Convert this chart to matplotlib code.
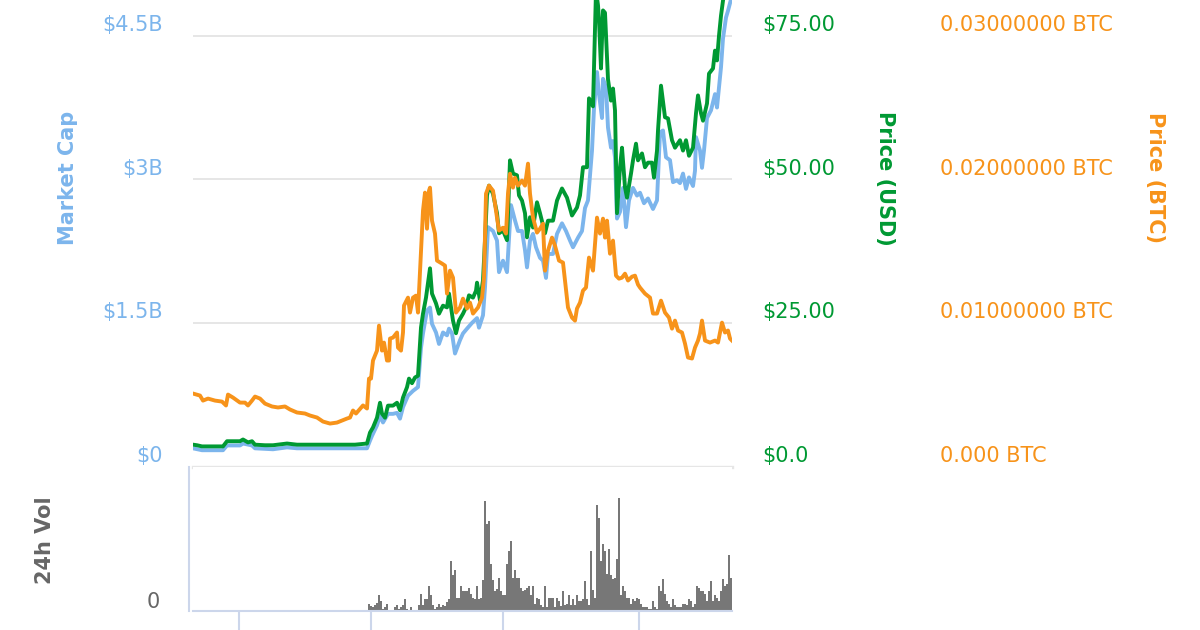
import numpy as np
import matplotlib.pyplot as plt
from matplotlib.transforms import ScaledTranslation

plt.rcParams['font.family'] = ['DejaVu Sans']

# x is a day index over the ~270 days shown
cap_day = [0, 4.5, 15, 17, 23.5, 25, 29.5, 31, 40, 47,
           52, 73.5, 87, 88.5, 89.5, 92, 93.5, 95, 97.5, 100,
           102, 103.5, 105, 107.5, 110, 112.5, 114, 115, 117, 118.5,
           119.5, 121.5, 123, 125, 127, 128, 129.5, 131, 133.5, 135,
           137, 139.5, 142, 143, 145, 146, 147.5, 150, 152, 153,
           155, 157, 159, 161, 162.5, 164.5, 166, 167, 168.5, 170,
           171.5, 173.5, 175, 176.5, 177.5, 180, 182, 184.5, 186.5, 188.5,
           190, 192.5, 194.5, 196, 197.5, 199.5, 200.5, 202, 203, 204.5,
           205, 206.5, 207.5, 209, 210, 211, 212, 213.5, 215, 216.5,
           218, 220, 222, 223.5, 225.5, 227.5, 230, 232, 233.5, 235,
           236.5, 238.5, 240, 242, 243.5, 245, 246.5, 248, 250, 251,
           251.5, 253.5, 254.5, 255.5, 257, 259, 261, 262, 264, 265,
           266.5, 267.5, 269.5]
cap_bn = [0.19, 0.17, 0.17, 0.22, 0.22, 0.24, 0.22, 0.19, 0.18, 0.20,
          0.19, 0.19, 0.19, 0.27, 0.32, 0.43, 0.53, 0.46, 0.55, 0.55,
          0.56, 0.50, 0.62, 0.74, 0.79, 0.83, 1.24, 1.39, 1.63, 1.66,
          1.49, 1.40, 1.28, 1.40, 1.37, 1.44, 1.39, 1.18, 1.32, 1.39,
          1.44, 1.50, 1.55, 1.45, 1.58, 1.87, 2.50, 2.46, 2.36, 2.03,
          2.15, 2.03, 2.73, 2.57, 2.46, 2.46, 2.26, 2.08, 2.36, 2.43,
          2.29, 2.18, 2.15, 1.97, 2.22, 2.22, 2.43, 2.54, 2.46, 2.36,
          2.29, 2.39, 2.46, 2.70, 2.78, 3.30, 3.74, 4.12, 3.89, 3.64,
          4.05, 3.96, 3.54, 3.33, 3.40, 3.23, 2.59, 2.66, 2.91, 2.50,
          2.78, 2.91, 2.83, 2.86, 2.75, 2.80, 2.69, 2.78, 3.49, 3.51,
          3.23, 3.20, 2.97, 2.99, 2.96, 3.06, 2.90, 3.02, 2.93, 3.09,
          3.44, 3.30, 3.12, 3.30, 3.64, 3.72, 3.89, 3.75, 4.17, 4.47,
          4.69, 4.76, 4.92]

usd_day = [0, 2, 4.5, 8.5, 15, 17, 21, 23.5, 25, 27.5,
           29.5, 31, 36, 40, 47, 52, 58.5, 63.5, 73.5, 81,
           87, 88.5, 90, 92, 93.5, 94.5, 96, 97.5, 100, 102,
           103.5, 105, 107, 108, 109.5, 111, 112.5, 114, 115, 116.5,
           118.5, 119.5, 121.5, 123, 125, 127, 128, 130, 131.5, 133,
           135, 136.5, 138, 140, 141.5, 142, 143.5, 145, 146, 147,
           148, 150, 152, 153, 155, 157, 158.5, 160, 162, 163,
           164.5, 166, 167, 168.5, 170, 172, 173.5, 176, 177.5, 180,
           182, 184.5, 187, 189.5, 192, 193.5, 195, 197, 198, 200,
           201.5, 202.5, 203, 204, 205, 206, 207.5, 209, 210, 211,
           212, 213.5, 214.5, 216, 217, 219, 220, 221.5, 222.5, 224.5,
           226, 227.5, 229.5, 230.5, 232, 232.5, 234, 236, 237.5, 239.5,
           241, 243.5, 245, 246.5, 248, 250, 251.5, 252.5, 254, 255,
           257, 258, 260, 261, 262, 263, 264, 265, 266, 269.5]
usd = [3.8, 3.7, 3.5, 3.5, 3.5, 4.4, 4.4, 4.4, 4.7, 4.2,
       4.4, 3.8, 3.7, 3.7, 4.0, 3.8, 3.8, 3.8, 3.8, 3.8,
       4.0, 5.9, 6.8, 8.5, 11.1, 9.2, 8.5, 10.6, 10.6, 11.1,
       9.8, 12.0, 13.8, 15.3, 14.5, 15.5, 15.8, 24.2, 26.6, 29.4,
       34.5, 30.1, 28.4, 26.6, 28.0, 27.7, 30.1, 25.4, 23.2, 25.4,
       26.6, 27.7, 29.8, 29.4, 30.6, 32.0, 28.9, 32.4, 39.4, 47.2,
       48.9, 47.5, 44.1, 40.6, 41.1, 39.4, 53.3, 51.0, 50.7, 47.2,
       46.3, 44.1, 39.9, 43.4, 41.6, 46.0, 44.1, 40.6, 42.8, 42.8,
       46.3, 48.4, 46.8, 43.7, 45.1, 47.2, 52.1, 52.1, 64.1, 62.7,
       82.9, 80.3, 77.7, 69.3, 79.4, 79.0, 67.4, 63.7, 65.8, 62.0,
       44.1, 52.1, 55.5, 48.6, 46.8, 51.0, 53.3, 56.2, 53.3, 54.5,
       52.1, 52.9, 52.9, 50.3, 55.0, 58.5, 66.3, 60.8, 60.6, 56.8,
       55.5, 56.8, 55.0, 56.8, 54.1, 55.5, 61.5, 64.6, 61.5, 60.2,
       63.2, 68.4, 69.3, 72.4, 70.7, 75.0, 78.5, 81.1, 83.7, 86.4]

btc_day = [0, 3.5, 5, 7.5, 11, 14.5, 16.5, 17.5, 20, 23.5,
           26, 27.5, 29.5, 31, 33.5, 36, 39.5, 42.5, 46, 48.5,
           52, 56, 58.5, 62, 65, 68.5, 72, 74.5, 77, 78.5,
           80, 81.5, 85, 87, 88, 89, 90, 92, 93, 94.5,
           95.5, 97, 98, 98.5, 100, 102, 102.5, 104, 105, 105.5,
           107.5, 108.5, 110, 111.5, 112.5, 114, 115, 116, 117, 118,
           118.5, 119.5, 121, 122, 124.5, 126, 127, 128.5, 130, 131.5,
           133.5, 135, 137, 138.5, 140, 142.5, 144.5, 145.5, 146.5, 148,
           150, 151, 152, 153, 155, 156.5, 157.5, 158.5, 160, 161,
           162.5, 164.5, 166, 167.5, 168.5, 170, 172, 173.5, 175, 176,
           177.5, 179.5, 181, 183, 185, 186, 187.5, 189.5, 191, 192,
           193.5, 195, 196.5, 198, 200, 202, 203.5, 205, 206, 207,
           208.5, 210, 211.5, 213, 214.5, 216, 217.5, 219.5, 221, 222.5,
           223.5, 226, 228.5, 230, 232, 234, 236, 238, 239.5, 241,
           242.5, 244.5, 246, 247.5, 249.5, 251, 252.5, 253.5, 254.5, 256,
           258.5, 261, 262.5, 264.5, 266, 267.5, 268.5, 269.5]
btc = [0.00508, 0.00494, 0.00459, 0.00473, 0.00459, 0.00452, 0.00425, 0.00501, 0.00480, 0.00445,
       0.00445, 0.00425, 0.00459, 0.00487, 0.00473, 0.00438, 0.00418, 0.00411, 0.00418, 0.00397,
       0.00376, 0.00369, 0.00355, 0.00341, 0.00313, 0.00299, 0.00306, 0.00320, 0.00334, 0.00341,
       0.00390, 0.00369, 0.00425, 0.00404, 0.00612, 0.00612, 0.00738, 0.00807, 0.00981, 0.00807,
       0.00863, 0.00738, 0.00738, 0.00891, 0.00898, 0.00933, 0.00828, 0.00807, 0.00933, 0.01121,
       0.01176, 0.01072, 0.01176, 0.01190, 0.01072, 0.01503, 0.01782, 0.01907, 0.01656, 0.01921,
       0.01942, 0.01712, 0.01622, 0.01434, 0.01413, 0.01399, 0.01204, 0.01364, 0.01315, 0.01072,
       0.01107, 0.01169, 0.01100, 0.01141, 0.01065, 0.01107, 0.01176, 0.01315, 0.01900, 0.01956,
       0.01921, 0.01830, 0.01733, 0.01643, 0.01663, 0.01622, 0.01900, 0.02039, 0.01942, 0.02011,
       0.01956, 0.01991, 0.01956, 0.02109, 0.01900, 0.01733, 0.01629, 0.01656, 0.01691, 0.01364,
       0.01503, 0.01594, 0.01538, 0.01434, 0.01420, 0.01295, 0.01107, 0.01037, 0.01016, 0.01100,
       0.01141, 0.01225, 0.01246, 0.01455, 0.01364, 0.01733, 0.01622, 0.01726, 0.01594, 0.01712,
       0.01482, 0.01573, 0.01329, 0.01308, 0.01315, 0.01343, 0.01295, 0.01322, 0.01329, 0.01267,
       0.01246, 0.01204, 0.01176, 0.01065, 0.01065, 0.01155, 0.01072, 0.01037, 0.00960, 0.01016,
       0.00947, 0.00933, 0.00856, 0.00759, 0.00752, 0.00828, 0.00877, 0.00926, 0.01016, 0.00877,
       0.00863, 0.00877, 0.00863, 0.01002, 0.00933, 0.00947, 0.00891, 0.00877]

# 24h volume in $M, one bar per day from vol_start on
vol_start = 88
vol_musd = [73, 50, 40, 57, 80, 157, 100, 23, 40, 73,
            13, 13, 13, 40, 57, 23, 40, 57, 117, 17,
            13, 40, 13, 13, 13, 57, 173, 57, 117, 117,
            253, 157, 57, 23, 40, 73, 40, 57, 47, 90,
            117, 497, 357, 413, 133, 133, 253, 197, 197, 197,
            233, 173, 133, 117, 253, 117, 133, 313, 1097, 873,
            897, 473, 313, 197, 223, 333, 197, 157, 157, 473,
            597, 697, 333, 413, 333, 333, 233, 197, 213, 233,
            253, 157, 253, 73, 133, 117, 57, 40, 253, 40,
            133, 133, 133, 40, 133, 100, 47, 197, 57, 73,
            157, 57, 117, 57, 157, 97, 97, 117, 297, 117,
            57, 597, 213, 133, 1057, 933, 497, 673, 597, 373,
            617, 357, 317, 333, 517, 1133, 157, 253, 197, 133,
            133, 73, 117, 97, 133, 117, 73, 40, 40, 40,
            20, 20, 97, 40, 20, 253, 197, 317, 173, 97,
            73, 40, 117, 57, 40, 40, 40, 73, 73, 57,
            117, 97, 40, 73, 253, 233, 197, 197, 173, 97,
            197, 297, 97, 157, 133, 97, 197, 317, 253, 273,
            557, 333]

cap_ticks = [0, 1.5, 3, 4.5]
cap_labels = ['$0', '$1.5B', '$3B', '$4.5B']
usd_ticks = [0, 25, 50, 75]
usd_labels = ['$0.0', '$25.00', '$50.00', '$75.00']
btc_ticks = [0, 0.01, 0.02, 0.03]
btc_labels = ['0.000 BTC', '0.01000000 BTC', '0.02000000 BTC', '0.03000000 BTC']
date_ticks = [23, 89, 155, 223]

BLUE = '#7cb5ec'
GREEN = '#009933'
ORANGE = '#f7931a'
W, H = 1200, 630
FS = 15

fig = plt.figure(figsize=(12, 6.3), dpi=100)

ax = fig.add_axes([193 / W, 1 - 466.5 / H, 539 / W, 466.5 / H])
ax2 = ax.twinx()
ax3 = ax.twinx()

ax.plot(cap_day, cap_bn, color=BLUE, lw=2.8, solid_joinstyle='round')
ax2.plot(usd_day, usd, color=GREEN, lw=2.8, solid_joinstyle='round')
ax3.plot(btc_day, btc, color=ORANGE, lw=2.8, solid_joinstyle='round')

ax.set_xlim(0, 269.5)
top = 4.873
ax.set_ylim(0, top)
ax2.set_ylim(0, top / 4.5 * 75)
ax3.set_ylim(0, top / 4.5 * 0.03)

ax.set_xticks([])
ax.set_yticks(cap_ticks)
ax.set_yticklabels(cap_labels)
ax.yaxis.grid(True, color='#e6e6e6', lw=1.4)
ax.set_axisbelow(True)
ax.tick_params(axis='y', length=0, pad=21.5, labelsize=FS, labelcolor=BLUE)

ax2.set_yticks(usd_ticks)
ax2.set_yticklabels(usd_labels)
ax2.tick_params(axis='y', length=0, pad=22, labelsize=FS, labelcolor=GREEN)

ax3.set_yticks(btc_ticks)
ax3.set_yticklabels(btc_labels)
ax3.tick_params(axis='y', length=0, pad=150, labelsize=FS, labelcolor=ORANGE)

for a in (ax, ax2, ax3):
    for s in a.spines.values():
        s.set_visible(False)
ax.spines['bottom'].set_visible(True)
ax.spines['bottom'].set_color('#e6e6e6')
ax.spines['bottom'].set_linewidth(2.4)

# labels sit a little above their grid lines
up = ScaledTranslation(0, 12.5 / 100, fig.dpi_scale_trans)
for a in (ax, ax2, ax3):
    for t in a.yaxis.get_major_ticks():
        for lab in (t.label1, t.label2):
            lab.set_transform(lab.get_transform() + up)

fig.text(68 / W, 1 - 178 / H, 'Market Cap', rotation=90, color=BLUE,
         fontsize=FS, fontweight='bold', ha='center', va='center')
fig.text(885 / W, 1 - 178 / H, 'Price (USD)', rotation=270, color=GREEN,
         fontsize=FS, fontweight='bold', ha='center', va='center')
fig.text(1155 / W, 1 - 178 / H, 'Price (BTC)', rotation=270, color=ORANGE,
         fontsize=FS, fontweight='bold', ha='center', va='center')

# volume pane
axv = fig.add_axes([193 / W, 1 - 611 / H, 539 / W, 144 / H])
vol_day = vol_start + np.arange(len(vol_musd))
axv.bar(vol_day, vol_musd, width=1.0, color='#777777', linewidth=0)
axv.set_xlim(0, 269.5)
axv.set_ylim(0, 1440)
axv.set_yticks([0])
axv.set_yticklabels(['0'])
axv.tick_params(axis='y', length=0, pad=21, labelsize=FS, labelcolor='#666666')
axv.set_xticks(date_ticks)
axv.set_xticklabels([])
axv.tick_params(axis='x', direction='out', length=14, width=1.5, color='#ccd6eb')
for s in ('top', 'right'):
    axv.spines[s].set_visible(False)
axv.spines['left'].set_position(('outward', 3))
axv.spines['left'].set_color('#ccd6eb')
axv.spines['left'].set_linewidth(1.5)
axv.spines['bottom'].set_color('#ccd6eb')
axv.spines['bottom'].set_linewidth(1.5)
up_v = ScaledTranslation(0, 11 / 100, fig.dpi_scale_trans)
for t in axv.yaxis.get_major_ticks():
    t.label1.set_transform(t.label1.get_transform() + up_v)

fig.text(45 / W, 1 - 540 / H, '24h Vol', rotation=90, color='#666666',
         fontsize=FS, fontweight='bold', ha='center', va='center')

fig.savefig('out.png', dpi=100)
